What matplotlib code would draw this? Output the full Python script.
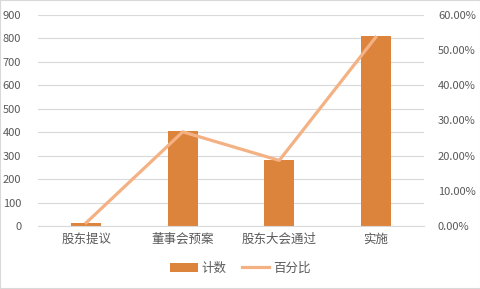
import matplotlib.pyplot as plt
from matplotlib.ticker import PercentFormatter
import numpy as np

plt.rcParams['font.family'] = ['Noto Sans CJK SC', 'DejaVu Sans']

categories = ['股东提议', '董事会预案', '股东大会通过', '实施']
counts = [14, 405, 282, 812]
percent = [0.0093, 0.2677, 0.1864, 0.5367]

gray = '#595959'
fig = plt.figure(figsize=(4.81, 2.89), dpi=100)
ax = fig.add_axes([38/481, 1-226/289, (424-38)/481, (226-15)/289])
x = np.arange(len(categories))

bars = ax.bar(x, counts, width=0.31, color='#DD843C', label='计数', zorder=2)
ax.set_ylim(0, 900)
ax.set_xlim(-0.5, 3.5)
ax.set_yticks(range(0, 901, 100))
ax.grid(axis='y', color='#D9D9D9', lw=0.8, zorder=0)
ax.set_xticks(x)
ax.set_xticklabels(categories, fontsize=9, color=gray)
ax.tick_params(axis='y', labelsize=8, colors=gray, length=0, pad=12)
ax.tick_params(axis='x', length=0, pad=5)
for s in ['top', 'right', 'left']:
    ax.spines[s].set_visible(False)
ax.spines['bottom'].set_color('#D9D9D9')

ax2 = ax.twinx()
line, = ax2.plot(x, percent, color='#F4B183', lw=2.3, label='百分比', zorder=3)
ax2.set_ylim(0, 0.6)
ax2.set_yticks(np.arange(0, 0.61, 0.1))
ax2.yaxis.set_major_formatter(PercentFormatter(1.0, decimals=2))
ax2.tick_params(axis='y', labelsize=8, colors=gray, length=0, pad=10)
for s in ax2.spines.values():
    s.set_visible(False)

fig.legend([bars, line], ['计数', '百分比'], loc='center', bbox_to_anchor=(0.5, 1-268/289),
           ncol=2, frameon=False, fontsize=9, labelcolor=gray, handlelength=2.2,
           columnspacing=1.2, handletextpad=0.3)

fig.patches.append(plt.Rectangle((0, 0), 1, 1, transform=fig.transFigure,
                                 fill=False, edgecolor='#D9D9D9', lw=1.5))
fig.savefig('out.png', dpi=100)
